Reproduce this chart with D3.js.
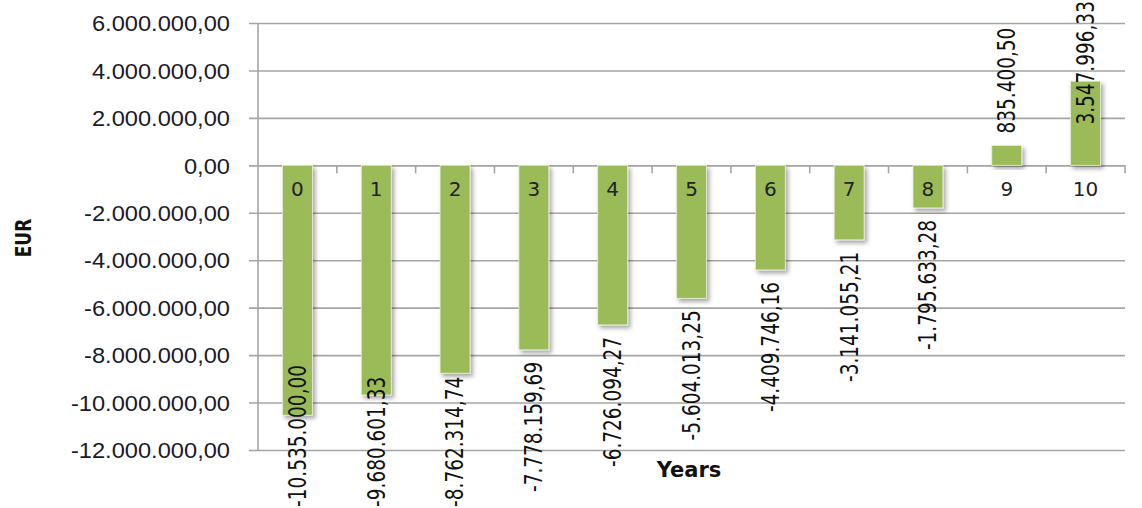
<!DOCTYPE html>
<html>
<head>
<meta charset="utf-8">
<script src="https://cdn.jsdelivr.net/npm/d3@7"></script>
<style>
  html, body { margin: 0; padding: 0; background: #fff; }
  svg { display: block; font-family: "DejaVu Sans", Verdana, sans-serif; }
</style>
</head>
<body>
<svg id="chart" width="1142" height="508"></svg>
<script>
const categories = ["0","1","2","3","4","5","6","7","8","9","10"];
const values = [-10535000.00, -9680601.33, -8762314.74, -7778159.69, -6726094.27,
                -5604013.25, -4409746.16, -3141055.21, -1795633.28, 835400.50, 3547996.33];
const yTicks = [6000000, 4000000, 2000000, 0, -2000000, -4000000, -6000000,
                -8000000, -10000000, -12000000];
const yTitle = "EUR";
const xTitle = "Years";

(function draw() {
const locale = d3.formatLocale({decimal: ",", thousands: ".", grouping: [3], currency: ["", "€"], minus: "-"});
const fmt = locale.format(",.2f");

const svg = d3.select("#chart");
const pLeft = 258, pRight = 1125, pTop = 23, pBottom = 450;

const x = d3.scaleBand().domain(categories).range([pLeft, pRight]).paddingInner(0.62).paddingOuter(0.31);
const y = d3.scaleLinear().domain([-12000000, 6000000]).range([pBottom, pTop]);

const defs = svg.append("defs");
const f = defs.append("filter").attr("id", "shadow").attr("x", "-30%").attr("y", "-10%").attr("width", "170%").attr("height", "130%");
f.append("feDropShadow").attr("dx", 2.5).attr("dy", 3).attr("stdDeviation", 2).attr("flood-color", "#000").attr("flood-opacity", 0.35);

const grid = "#a5a5a5";

// gridlines + y axis ticks
const yAxis = d3.axisLeft(y).tickValues(yTicks).tickSize(-(pRight - pLeft)).tickFormat(fmt).tickPadding(18);
const gy = svg.append("g").attr("transform", `translate(${pLeft},0)`).call(yAxis);
gy.select(".domain").remove();
gy.selectAll(".tick line").attr("stroke", grid).attr("stroke-width", 1.6).attr("x1", -9);
gy.selectAll(".tick text")
  .attr("fill", "#1a1a2a").attr("font-size", 21.5).attr("x", null).attr("dx", null)
  .attr("transform", "translate(-28,0) scale(1.1,1)").attr("text-anchor", "end").attr("dy", "0.36em");

// y axis line
svg.append("line").attr("x1", pLeft).attr("x2", pLeft).attr("y1", pTop).attr("y2", pBottom)
  .attr("stroke", grid).attr("stroke-width", 1.6);

// category ticks on zero line
const boundaries = categories.map(c => x(c) - x.step() * x.paddingInner() / 2).concat([pRight]);
svg.append("g").selectAll("line").data(boundaries.slice(1)).join("line")
  .attr("x1", d => d).attr("x2", d => d).attr("y1", y(0)).attr("y2", y(0) + 8)
  .attr("stroke", grid).attr("stroke-width", 1.6);

// bars
svg.append("g").selectAll("rect").data(values).join("rect")
  .attr("x", (d, i) => x(categories[i]))
  .attr("width", x.bandwidth())
  .attr("y", d => Math.min(y(d), y(0)))
  .attr("height", d => Math.abs(y(d) - y(0)))
  .attr("fill", "#9bbb59")
  .attr("stroke", "#e8efdc").attr("stroke-width", 0.8)
  .attr("filter", "url(#shadow)");

// category labels
svg.append("g").selectAll("text").data(categories).join("text")
  .attr("x", d => x(d) + x.bandwidth() / 2)
  .attr("y", y(0) + 31)
  .attr("text-anchor", "middle")
  .attr("font-size", 20)
  .attr("fill", "#222")
  .text(d => d);

// value labels
const lab = svg.append("g").selectAll("text").data(values).join("text")
  .attr("font-size", 18.5)
  .attr("fill", "#111")
  .attr("dominant-baseline", "central")
  .text(d => fmt(d));

lab.each(function(d, i) {
  const t = d3.select(this);
  const len = this.getComputedTextLength();
  const cx = x(categories[i]) + x.bandwidth() / 2;
  let pos, anchor;
  if (d < 0) {
    pos = y(d) + 12;
    if (pos + len > 507) pos = 507 - len;
    anchor = "end";
  } else {
    pos = y(d) - 12;
    if (pos - len < 1) pos = 1 + len;
    anchor = "start";
  }
  t.attr("text-anchor", anchor)
   .attr("transform", `translate(${cx},${pos}) rotate(-90) scale(1,1.3)`);
});

// axis titles
svg.append("text")
  .attr("transform", `translate(24,238) rotate(-90) scale(1,1.25)`)
  .attr("text-anchor", "middle").attr("dominant-baseline", "central")
  .attr("font-size", 17).attr("font-weight", "bold").attr("fill", "#111")
  .text(yTitle);

svg.append("text")
  .attr("x", 689).attr("y", 477)
  .attr("text-anchor", "middle")
  .attr("font-size", 21).attr("font-weight", "bold").attr("fill", "#111")
  .text(xTitle);
})();
</script>
</body>
</html>
